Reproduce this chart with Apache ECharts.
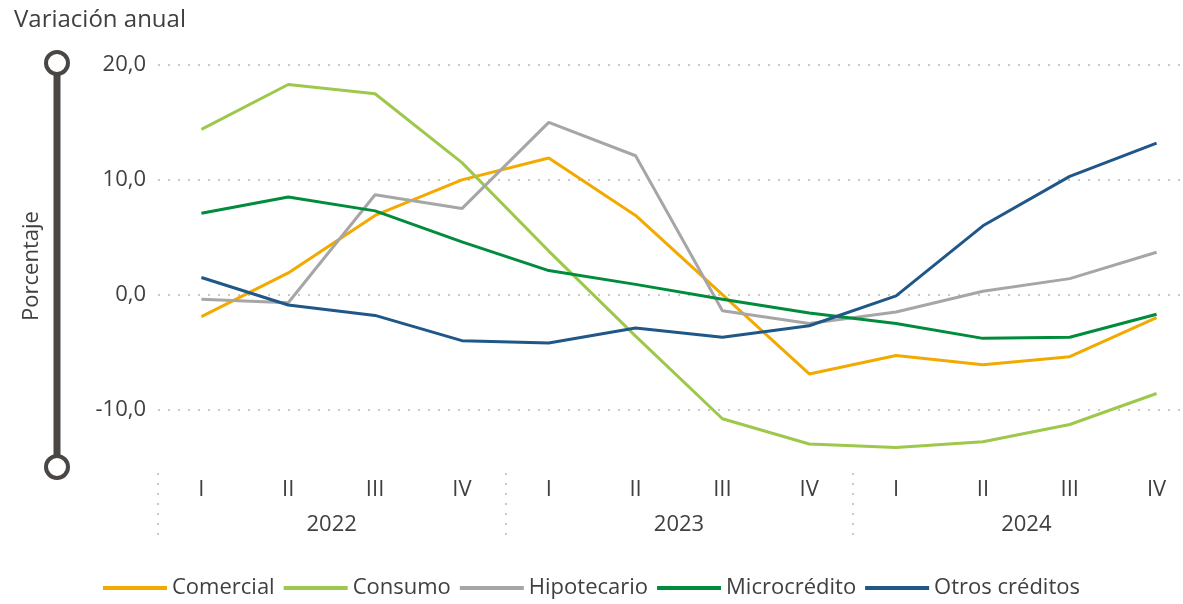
<!DOCTYPE html>
<html>
<head>
<meta charset="utf-8">
<script src="https://cdn.jsdelivr.net/npm/echarts@6/dist/echarts.min.js"></script>
<style>
  html, body { margin: 0; padding: 0; background: #ffffff; overflow: hidden; }
  #chart { width: 1200px; height: 604px; }
</style>
</head>
<body>
<div id="chart"></div>
<script>
  // categorías: trimestres y años
  var quarters = ['I', 'II', 'III', 'IV', 'I', 'II', 'III', 'IV', 'I', 'II', 'III', 'IV'];
  var years = ['2022', '2023', '2024'];

  // variación anual (%)
  var comercial    = [-1.9, 1.9, 6.9, 10.0, 11.9, 6.9, 0.0, -6.9, -5.3, -6.1, -5.4, -2.0];
  var consumo      = [14.4, 18.3, 17.5, 11.5, 3.8, -3.6, -10.8, -13.0, -13.3, -12.8, -11.3, -8.6];
  var hipotecario  = [-0.4, -0.7, 8.7, 7.5, 15.0, 12.1, -1.4, -2.5, -1.5, 0.3, 1.4, 3.7];
  var microcredito = [7.1, 8.5, 7.3, 4.6, 2.1, 0.9, -0.4, -1.6, -2.5, -3.8, -3.7, -1.7];
  var otros        = [1.5, -0.9, -1.8, -4.0, -4.2, -2.9, -3.7, -2.7, -0.1, 6.0, 10.3, 13.2];

  var yMin = -15, yMax = 20;

  var font = '"Open Sans", "Noto Sans", sans-serif';
  var txt = '#404040';

  // el lienzo es algo más ancho que la ventana: el último tramo queda recortado
  var chart = echarts.init(document.getElementById('chart'));

  function serie(name, data, color) {
    return {
      name: name,
      type: 'line',
      data: data,
      showSymbol: false,
      lineStyle: { width: 3, color: color },
      itemStyle: { color: color }
    };
  }

  chart.setOption({
    animation: false,
    textStyle: { fontFamily: font, color: txt },
    title: {
      text: 'Variación anual',
      left: 9,
      top: 3,
      textStyle: { fontFamily: font, fontSize: 24, fontWeight: 'normal', color: txt }
    },
    legend: {
      top: 572,
      left: 98,
      icon: 'rect',
      itemWidth: 64,
      itemHeight: 4,
      itemGap: 9,
      textStyle: { fontFamily: font, fontSize: 22, color: txt },
      data: ['Comercial', 'Consumo', 'Hipotecario', 'Microcrédito', 'Otros créditos']
    },
    grid: { left: 158, right: 0, top: 65, bottom: 137 },
    xAxis: [{
      type: 'category',
      data: quarters,
      boundaryGap: true,
      axisLine: { show: false },
      axisTick: { show: false },
      axisLabel: { fontFamily: font, fontSize: 22, color: txt, margin: 12 }
    }, {
      type: 'category',
      data: years,
      position: 'bottom',
      offset: 6,
      boundaryGap: true,
      axisLine: { show: false },
      axisTick: {
        show: true,
        length: 70,
        lineStyle: { color: '#c8c8c8', width: 2, type: [2, 8] }
      },
      axisLabel: { fontFamily: font, fontSize: 22, color: txt, margin: 41 }
    }],
    yAxis: {
      type: 'value',
      min: yMin,
      max: yMax,
      interval: 5,
      name: 'Porcentaje',
      nameLocation: 'middle',
      nameGap: 115,
      nameRotate: 90,
      nameTextStyle: { fontFamily: font, fontSize: 22, color: txt },
      axisLine: { show: false },
      axisTick: { show: false },
      axisLabel: {
        fontFamily: font, fontSize: 22, color: txt, margin: 12,
        formatter: function (v) {
          return v % 10 === 0 ? v.toFixed(1).replace('.', ',') : '';
        }
      },
      splitLine: {
        show: true,
        lineStyle: { color: ['transparent', '#c8c8c8'], width: 2, type: [2, 8] }
      }
    },
    series: [
      serie('Comercial', comercial, '#F2A900'),
      serie('Consumo', consumo, '#9DC84B'),
      serie('Hipotecario', hipotecario, '#A6A6A6'),
      serie('Microcrédito', microcredito, '#008C3C'),
      serie('Otros créditos', otros, '#1F5789')
    ]
  });

  // barra decorativa del eje vertical
  var yTop = chart.convertToPixel({ yAxisIndex: 0 }, yMax) - 2;
  var yBot = chart.convertToPixel({ yAxisIndex: 0 }, yMin);
  var barX = 57;
  chart.setOption({
    graphic: [{
      type: 'line',
      shape: { x1: barX, y1: yTop, x2: barX, y2: yBot },
      style: { stroke: '#4a4643', lineWidth: 7 }
    }, {
      type: 'circle',
      shape: { cx: barX, cy: yTop, r: 11 },
      style: { fill: '#ffffff', stroke: '#4a4643', lineWidth: 4 }
    }, {
      type: 'circle',
      shape: { cx: barX, cy: yBot, r: 11 },
      style: { fill: '#ffffff', stroke: '#4a4643', lineWidth: 4 }
    }]
  });
</script>
</body>
</html>
